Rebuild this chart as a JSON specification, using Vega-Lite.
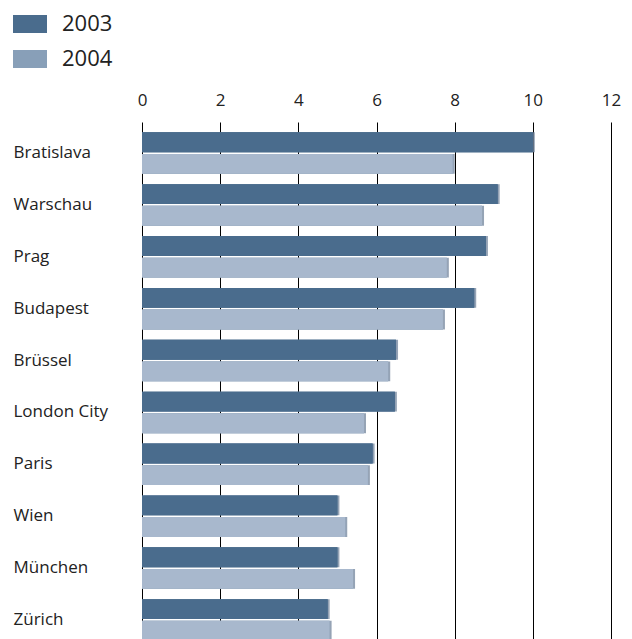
{
  "$schema": "https://vega.github.io/schema/vega-lite/v6.json",
  "width": 469,
  "height": 529,
  "autosize": {"type": "none"},
  "padding": {"left": 142, "top": 122, "right": 21, "bottom": 0},
  "background": "white",
  "config": {
    "view": {"stroke": null},
    "font": "Open Sans",
    "scale": {"bandPaddingInner": 0.23, "bandPaddingOuter": 0.17, "offsetBandPaddingInner": 0.08}
  },
  "data": {
    "values": [
      {"city": "Bratislava", "year": "2003", "value": 10.0},
      {"city": "Bratislava", "year": "2004", "value": 7.95},
      {"city": "Warschau", "year": "2003", "value": 9.1},
      {"city": "Warschau", "year": "2004", "value": 8.7},
      {"city": "Prag", "year": "2003", "value": 8.8},
      {"city": "Prag", "year": "2004", "value": 7.8},
      {"city": "Budapest", "year": "2003", "value": 8.5},
      {"city": "Budapest", "year": "2004", "value": 7.7},
      {"city": "Brüssel", "year": "2003", "value": 6.5},
      {"city": "Brüssel", "year": "2004", "value": 6.3},
      {"city": "London City", "year": "2003", "value": 6.47},
      {"city": "London City", "year": "2004", "value": 5.68},
      {"city": "Paris", "year": "2003", "value": 5.9},
      {"city": "Paris", "year": "2004", "value": 5.78},
      {"city": "Wien", "year": "2003", "value": 5.0},
      {"city": "Wien", "year": "2004", "value": 5.2},
      {"city": "München", "year": "2003", "value": 5.0},
      {"city": "München", "year": "2004", "value": 5.4},
      {"city": "Zürich", "year": "2003", "value": 4.75},
      {"city": "Zürich", "year": "2004", "value": 4.8}
    ]
  },
  "encoding": {
    "y": {
      "field": "city",
      "type": "nominal",
      "sort": ["Bratislava", "Warschau", "Prag", "Budapest", "Brüssel", "London City", "Paris", "Wien", "München", "Zürich"],
      "title": null,
      "axis": {
        "domain": false,
        "ticks": false,
        "tickSize": 0,
        "labelAlign": "left",
        "labelPadding": 129,
        "labelFontSize": 17,
        "labelColor": "#222222",
        "labelFont": "Open Sans"
      }
    },
    "yOffset": {"field": "year", "type": "nominal"},
    "x": {
      "field": "value",
      "type": "quantitative",
      "scale": {"domain": [0, 12], "nice": false},
      "title": null,
      "axis": {
        "orient": "top",
        "values": [0, 2, 4, 6, 8, 10, 12],
        "domain": false,
        "ticks": false,
        "tickSize": 0,
        "grid": true,
        "gridColor": "#000000",
        "gridWidth": 1,
        "gridOpacity": 1,
        "labelFlush": false,
        "labelPadding": 13,
        "labelFontSize": 17,
        "labelColor": "#222222",
        "labelFont": "Open Sans"
      }
    }
  },
  "layer": [
    {
      "mark": {"type": "bar", "xOffset": 2, "yOffset": 2, "color": "#7b8ca2", "opacity": 0.8}
    },
    {
      "mark": {"type": "bar"},
      "encoding": {
        "fill": {
          "field": "year",
          "type": "nominal",
          "scale": {"domain": ["2003", "2004"], "range": ["#4a6c8d", "#889fb8"]},
          "legend": {
            "title": null,
            "orient": "none",
            "legendX": -129,
            "legendY": -115,
            "padding": 0,
            "symbolType": "M-1,-0.53H1V0.53H-1Z",
            "symbolSize": 1156,
            "symbolStrokeWidth": 0,
            "symbolOpacity": 1,
            "labelFontSize": 22,
            "labelFont": "Open Sans",
            "labelColor": "#222222",
            "labelOffset": 15,
            "rowPadding": 7
          }
        }
      }
    },
    {
      "mark": {"type": "bar"},
      "encoding": {
        "color": {
          "field": "year",
          "type": "nominal",
          "scale": {"domain": ["2003", "2004"], "range": ["#4a6c8d", "#a8b8cd"]},
          "legend": null
        }
      }
    }
  ]
}
